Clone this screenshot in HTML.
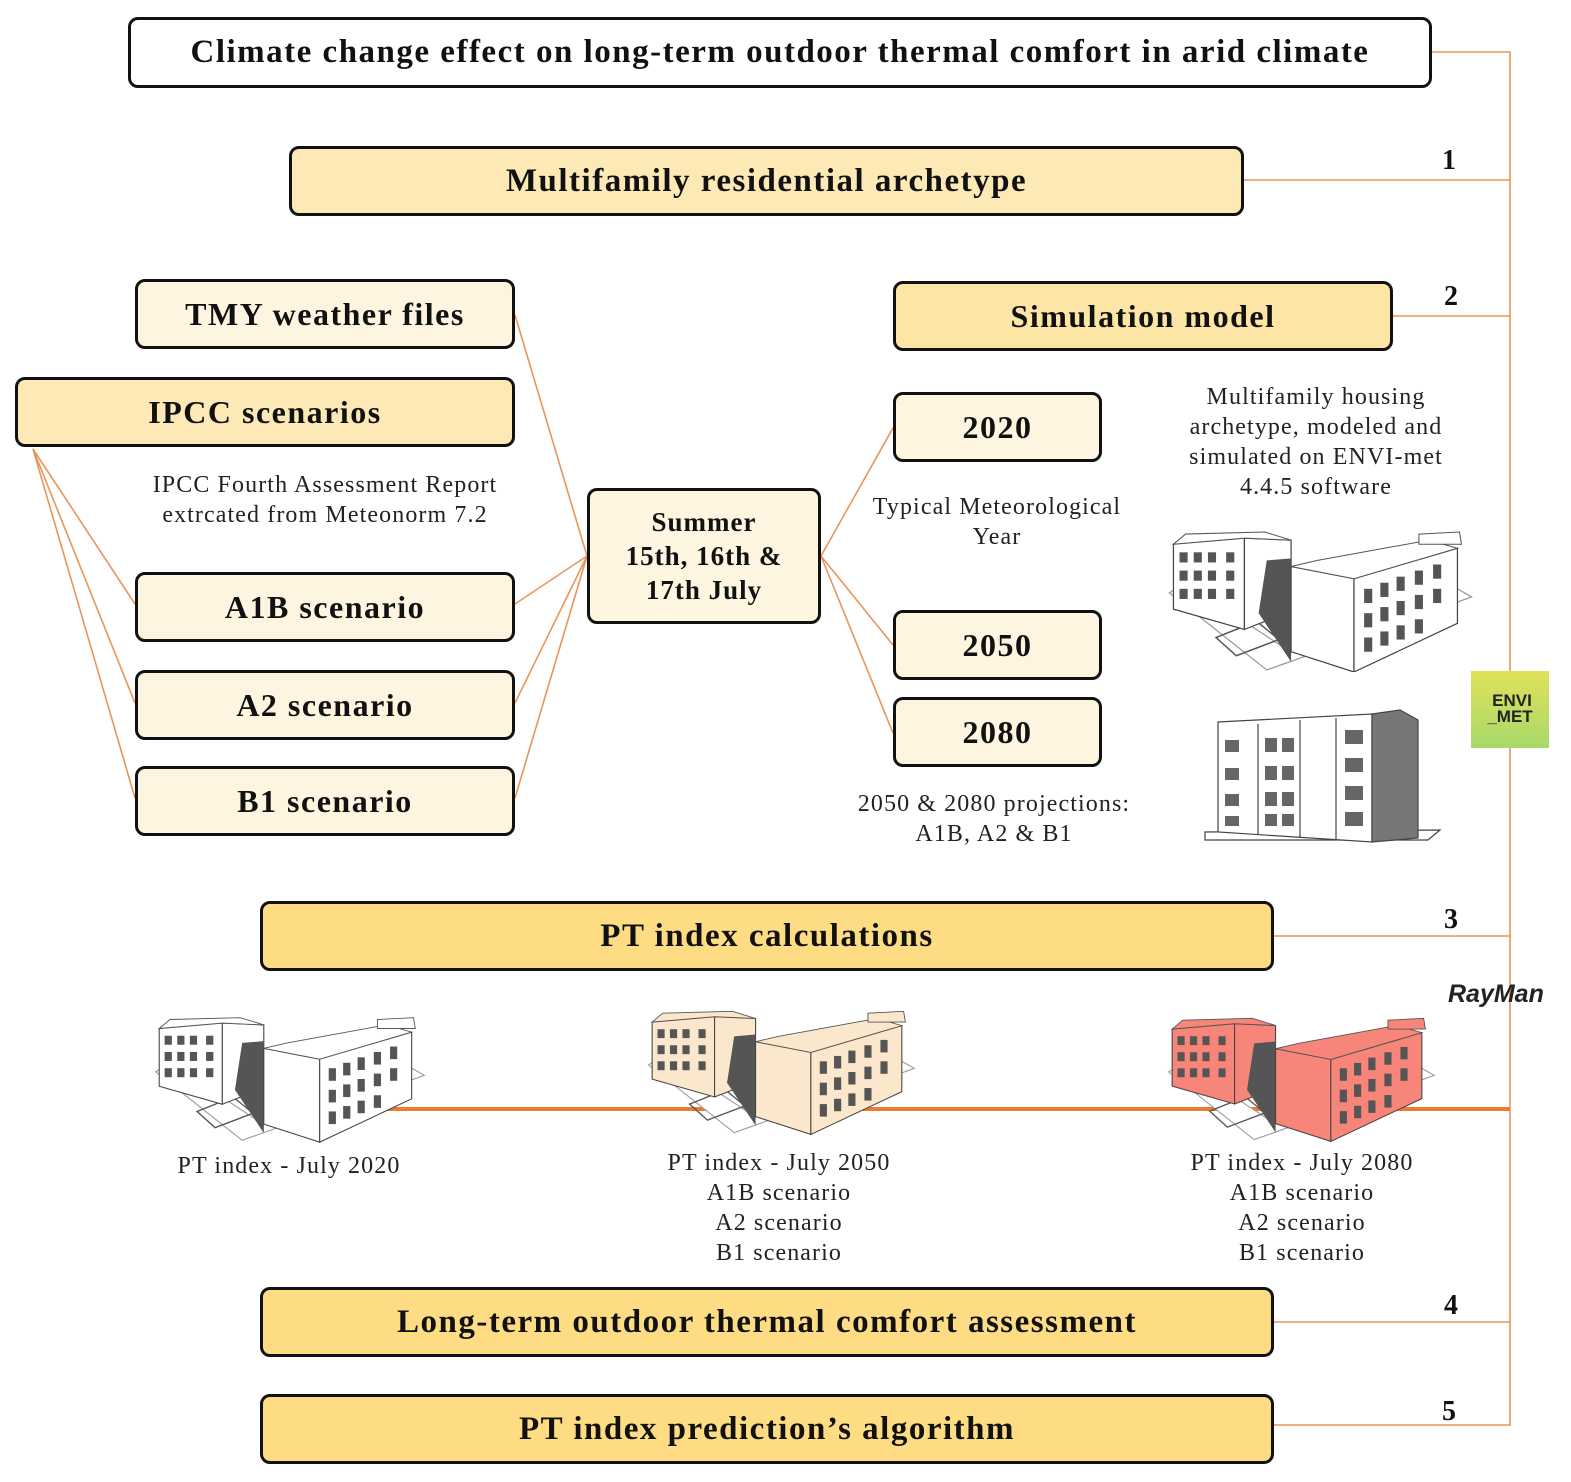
<!DOCTYPE html>
<html><head><meta charset="utf-8"><style>
body{margin:0;width:1571px;height:1482px;background:#fff;position:relative;overflow:hidden;font-family:"Liberation Serif",serif;}
.b{position:absolute;box-sizing:border-box;border:3.5px solid #111;border-radius:10px;display:flex;align-items:center;justify-content:center;font-weight:bold;font-size:32px;letter-spacing:1.5px;color:#111;text-align:center;white-space:nowrap;}
.c{background:#fef5e0}
.y1{background:#fde9b6}
.y3{background:#fddc84}
.big{font-size:33px;letter-spacing:1.5px}
.t{position:absolute;font-size:24px;letter-spacing:1.1px;color:#222;text-align:center;line-height:30px;white-space:nowrap;}
.n{position:absolute;font-size:28px;font-weight:bold;color:#111;}
svg{position:absolute;left:0;top:0}
</style></head><body>
<svg width="1571" height="1482">
<defs>
<symbol id="bld" viewBox="0 0 305 140">
<polygon points="4,62 100,138 302,66 288,58 120,118 20,52" fill="#fff" stroke="#999" stroke-width="1.2"/>
<polygon points="90,90 112,108 70,124 50,106" fill="none" stroke="#555" stroke-width="1.5"/>
<polygon points="8,14 78,8 78,98 8,78" fill="var(--f)" stroke="#444" stroke-width="1.2"/>
<polygon points="78,8 124,10 124,80 78,98" fill="var(--f)" stroke="#444" stroke-width="1.2"/>
<polygon points="8,14 20,4 98,2 124,10 78,8" fill="var(--f)" stroke="#555" stroke-width="1"/>
<g fill="#555"><rect x="14" y="22" width="8" height="10"/><rect x="28" y="22" width="8" height="10"/><rect x="42" y="22" width="8" height="10"/><rect x="60" y="22" width="8" height="10"/>
<rect x="14" y="40" width="8" height="10"/><rect x="28" y="40" width="8" height="10"/><rect x="42" y="40" width="8" height="10"/><rect x="60" y="40" width="8" height="10"/>
<rect x="14" y="58" width="8" height="10"/><rect x="28" y="58" width="8" height="10"/><rect x="42" y="58" width="8" height="10"/><rect x="60" y="58" width="8" height="10"/></g>
<polygon points="100,30 124,28 124,130 92,82" fill="#555"/>
<polygon points="124,36 186,48 186,140 124,120" fill="var(--f)" stroke="#444" stroke-width="1.2"/>
<polygon points="186,48 288,18 288,92 186,140" fill="var(--f)" stroke="#444" stroke-width="1.2"/>
<polygon points="124,36 150,30 260,10 288,18 186,48" fill="var(--f)" stroke="#555" stroke-width="1"/>
<polygon points="250,14 250,4 290,2 292,14" fill="var(--f)" stroke="#555" stroke-width="1"/>
<g fill="#555"><rect x="196" y="58" width="8" height="14"/><rect x="212" y="52" width="8" height="14"/><rect x="228" y="46" width="8" height="14"/><rect x="246" y="40" width="8" height="14"/><rect x="264" y="34" width="8" height="14"/>
<rect x="196" y="82" width="8" height="14"/><rect x="212" y="76" width="8" height="14"/><rect x="228" y="70" width="8" height="14"/><rect x="246" y="64" width="8" height="14"/><rect x="264" y="58" width="8" height="14"/>
<rect x="196" y="106" width="8" height="14"/><rect x="212" y="100" width="8" height="14"/><rect x="228" y="94" width="8" height="14"/><rect x="246" y="88" width="8" height="14"/></g>
</symbol>
</defs>
<g stroke="#e8955a" stroke-width="1.6" fill="none">
<line x1="515" y1="315" x2="587" y2="556"/>
<line x1="33" y1="449" x2="135" y2="604"/><line x1="33" y1="449" x2="135" y2="703"/><line x1="33" y1="449" x2="135" y2="798"/>
<line x1="515" y1="604" x2="587" y2="556"/><line x1="515" y1="703" x2="587" y2="556"/><line x1="515" y1="798" x2="587" y2="556"/>
<line x1="821" y1="556" x2="893" y2="428"/><line x1="821" y1="556" x2="893" y2="645"/><line x1="821" y1="556" x2="893" y2="733"/>
<polyline points="1432,52 1510,52 1510,1425 1274,1425"/>
<line x1="1244" y1="180" x2="1510" y2="180"/><line x1="1393" y1="316" x2="1510" y2="316"/>
<line x1="1274" y1="936" x2="1510" y2="936"/><line x1="1274" y1="1322" x2="1510" y2="1322"/>
</g>
<line x1="365" y1="1109" x2="1510" y2="1109" stroke="#ec7a30" stroke-width="4"/>
<use href="#bld" x="1165" y="530" width="310" height="142" style="--f:#fff"/>
<use href="#bld" x="152" y="1015" width="275" height="128" style="--f:#fff"/>
<use href="#bld" x="645" y="1008" width="272" height="128" style="--f:#fbe8cc"/>
<use href="#bld" x="1165" y="1015" width="272" height="128" style="--f:#f7857a"/>
<g stroke="#444" stroke-width="1.2">
<polygon points="1205,840 1428,840 1440,830 1205,832" fill="#fff"/>
<polygon points="1218,722 1372,714 1372,842 1218,832" fill="#fff"/>
<polygon points="1372,714 1400,710 1418,720 1418,838 1372,842" fill="#777"/>
<line x1="1258" y1="724" x2="1258" y2="834"/><line x1="1300" y1="720" x2="1300" y2="838"/><line x1="1336" y1="718" x2="1336" y2="840"/>
</g>
<g fill="#666">
<rect x="1225" y="740" width="14" height="12"/><rect x="1225" y="768" width="14" height="12"/><rect x="1225" y="794" width="14" height="12"/><rect x="1225" y="816" width="14" height="10"/>
<rect x="1265" y="738" width="12" height="14"/><rect x="1265" y="766" width="12" height="14"/><rect x="1265" y="792" width="12" height="14"/><rect x="1265" y="814" width="12" height="12"/>
<rect x="1282" y="738" width="12" height="14"/><rect x="1282" y="766" width="12" height="14"/><rect x="1282" y="792" width="12" height="14"/><rect x="1282" y="814" width="12" height="12"/>
<rect x="1345" y="730" width="18" height="14"/><rect x="1345" y="758" width="18" height="14"/><rect x="1345" y="786" width="18" height="14"/><rect x="1345" y="812" width="18" height="14"/>
</g>
<defs><linearGradient id="eg" x1="0" y1="0" x2="0" y2="1"><stop offset="0" stop-color="#dfe25a"/><stop offset="1" stop-color="#a8d86a"/></linearGradient></defs>
<rect x="1471" y="671" width="78" height="77" fill="url(#eg)"/>
<text x="1512" y="706" font-family="Liberation Sans,sans-serif" font-weight="bold" font-size="17" text-anchor="middle" fill="#222">ENVI</text>
<text x="1510" y="722" font-family="Liberation Sans,sans-serif" font-weight="bold" font-size="17" text-anchor="middle" fill="#222">_MET</text>
<text x="1448" y="1002" font-family="Liberation Sans,sans-serif" font-weight="bold" font-style="italic" font-size="25" fill="#222">RayMan</text>
</svg>

<div class="b big" style="left:128px;top:17px;width:1304px;height:71px;background:#fff">Climate change effect on long-term outdoor thermal comfort in arid climate</div>
<div class="b y1 big" style="left:289px;top:146px;width:955px;height:70px">Multifamily residential archetype</div>
<div class="b c" style="left:135px;top:279px;width:380px;height:70px">TMY weather files</div>
<div class="b y1" style="left:15px;top:377px;width:500px;height:70px">IPCC scenarios</div>
<div class="b y1" style="left:893px;top:281px;width:500px;height:70px;background:#fde5a6">Simulation model</div>
<div class="b c" style="left:893px;top:392px;width:209px;height:70px">2020</div>
<div class="b c" style="left:587px;top:488px;width:234px;height:136px;font-size:27px;letter-spacing:1px;line-height:34px">Summer<br>15th, 16th &amp;<br>17th July</div>
<div class="b c" style="left:135px;top:572px;width:380px;height:70px">A1B scenario</div>
<div class="b c" style="left:135px;top:670px;width:380px;height:70px">A2 scenario</div>
<div class="b c" style="left:135px;top:766px;width:380px;height:70px">B1 scenario</div>
<div class="b c" style="left:893px;top:610px;width:209px;height:70px">2050</div>
<div class="b c" style="left:893px;top:697px;width:209px;height:70px">2080</div>
<div class="b y3 big" style="left:260px;top:901px;width:1014px;height:70px">PT index calculations</div>
<div class="b y3 big" style="left:260px;top:1287px;width:1014px;height:70px">Long-term outdoor thermal comfort assessment</div>
<div class="b y3 big" style="left:260px;top:1394px;width:1014px;height:70px">PT index prediction’s algorithm</div>

<div class="t" style="left:125px;top:470px;width:400px">IPCC Fourth Assessment Report<br>extrcated from Meteonorm 7.2</div>
<div class="t" style="left:847px;top:492px;width:300px">Typical Meteorological<br>Year</div>
<div class="t" style="left:1156px;top:382px;width:320px">Multifamily housing<br>archetype, modeled and<br>simulated on ENVI-met<br>4.4.5 software</div>
<div class="t" style="left:834px;top:789px;width:320px">2050 &amp; 2080 projections:<br>A1B, A2 &amp; B1</div>
<div class="t" style="left:139px;top:1151px;width:300px">PT index - July 2020</div>
<div class="t" style="left:629px;top:1148px;width:300px">PT index - July 2050<br>A1B scenario<br>A2 scenario<br>B1 scenario</div>
<div class="t" style="left:1152px;top:1148px;width:300px">PT index - July 2080<br>A1B scenario<br>A2 scenario<br>B1 scenario</div>

<div class="n" style="left:1442px;top:145px">1</div>
<div class="n" style="left:1444px;top:281px">2</div>
<div class="n" style="left:1444px;top:904px">3</div>
<div class="n" style="left:1444px;top:1290px">4</div>
<div class="n" style="left:1442px;top:1396px">5</div>
</body></html>
